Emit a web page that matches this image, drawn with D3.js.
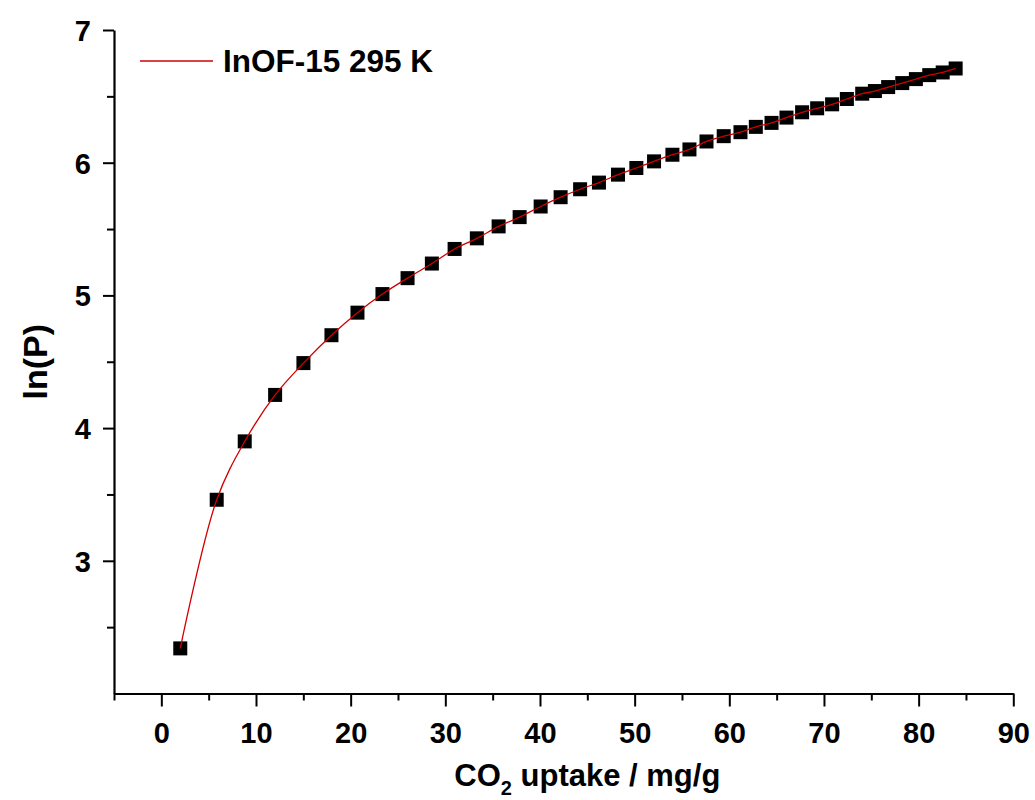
<!DOCTYPE html>
<html>
<head>
<meta charset="utf-8">
<script src="https://cdn.jsdelivr.net/npm/d3@7"></script>
<style>
  html, body { margin: 0; padding: 0; background: #ffffff; }
  svg { display: block; }
  text { font-family: "Liberation Sans", Arial, sans-serif; font-weight: bold; fill: #000; }
</style>
</head>
<body>
<svg id="chart" width="1035" height="800"></svg>
<script>
// ---- data ----
const uptake = [2.0, 5.85, 8.81, 12.02, 15.01, 17.97, 20.72, 23.36, 26.01, 28.58,
  30.98, 33.33, 35.63, 37.85, 40.07, 42.18, 44.24, 46.23, 48.24, 50.18,
  52.05, 53.99, 55.79, 57.59, 59.41, 61.18, 62.80, 64.46, 66.04, 67.69,
  69.28, 70.86, 72.42, 74.04, 75.38, 76.78, 78.27, 79.71, 81.12, 82.54, 83.91];
const lnP = [2.34, 3.46, 3.90, 4.25, 4.49, 4.70, 4.87, 5.01, 5.13, 5.24,
  5.35, 5.43, 5.52, 5.59, 5.67, 5.74, 5.80, 5.85, 5.91, 5.96,
  6.01, 6.06, 6.10, 6.16, 6.20, 6.23, 6.27, 6.30, 6.34, 6.38,
  6.41, 6.44, 6.48, 6.52, 6.54, 6.57, 6.60, 6.63, 6.66, 6.68, 6.71];
const xMajorTicks = [0, 10, 20, 30, 40, 50, 60, 70, 80, 90];
const xMinorTicks = [-5, 5, 15, 25, 35, 45, 55, 65, 75, 85];
const yMajorTicks = [3, 4, 5, 6, 7];
const yMinorTicks = [2.5, 3.5, 4.5, 5.5, 6.5];
const seriesLabel = "InOF-15 295 K";
const xTitleMain = "CO";
const xTitleSub = "2";
const xTitleRest = " uptake / mg/g";
const yTitle = "ln(P)";

// ---- layout ----
const svg = d3.select("#chart");
const x = d3.scaleLinear().domain([-5, 90]).range([114, 1013.3]);
const y = d3.scaleLinear().domain([2, 7]).range([693.5, 30]);
const data = uptake.map((u, i) => ({ x: u, y: lnP[i] }));
const FONT = "'Liberation Sans', Arial, sans-serif";

// x axis
const gx = svg.append("g").attr("transform", `translate(0,${y(2)})`);
gx.call(d3.axisBottom(x).tickValues(xMajorTicks).tickSize(13).tickSizeOuter(0).tickFormat(d3.format("d")));
gx.append("g").call(d3.axisBottom(x).tickValues(xMinorTicks).tickSize(7).tickSizeOuter(0).tickFormat(""))
  .select(".domain").remove();
gx.selectAll(".domain").attr("stroke", "#000").attr("stroke-width", 2.2);
gx.selectAll(".tick line").attr("stroke", "#000").attr("stroke-width", 2);
gx.selectAll(".tick text").attr("y", 49).attr("dy", "0")
  .style("font-size", "29px").style("font-family", FONT).style("font-weight", "bold");

// y axis
const gy = svg.append("g").attr("transform", `translate(${x(-5)},0)`);
gy.call(d3.axisLeft(y).tickValues(yMajorTicks).tickSize(11).tickSizeOuter(0).tickPadding(12).tickFormat(d3.format("d")));
gy.append("g").call(d3.axisLeft(y).tickValues(yMinorTicks).tickSize(7).tickSizeOuter(0).tickFormat(""))
  .select(".domain").remove();
gy.selectAll(".domain").attr("stroke", "#000").attr("stroke-width", 2.2);
gy.selectAll(".tick line").attr("stroke", "#000").attr("stroke-width", 2);
gy.selectAll(".tick text").attr("dy", "0.36em")
  .style("font-size", "29px").style("font-family", FONT).style("font-weight", "bold");

// markers
const sq = 14;
svg.append("g").selectAll("rect").data(data).join("rect")
  .attr("x", d => x(d.x) - sq / 2)
  .attr("y", d => y(d.y) - sq / 2)
  .attr("width", sq).attr("height", sq)
  .attr("fill", "#000");

// fit line
const line = d3.line().x(d => x(d.x)).y(d => y(d.y)).curve(d3.curveCatmullRom.alpha(0.5));
svg.append("path").datum(data).attr("d", line)
  .attr("fill", "none").attr("stroke", "#d00000").attr("stroke-width", 1.3);

// legend
svg.append("line").attr("x1", 140).attr("x2", 213).attr("y1", 61).attr("y2", 61)
  .attr("stroke", "#d00000").attr("stroke-width", 1.3);
svg.append("text").attr("x", 223).attr("y", 72).style("font-size", "31.5px").text(seriesLabel);

// axis titles
const xt = svg.append("text").attr("x", x(45)).attr("y", 786).attr("text-anchor", "middle").style("font-size", "31px");
xt.append("tspan").text(xTitleMain);
xt.append("tspan").attr("dy", 9).style("font-size", "20px").text(xTitleSub);
xt.append("tspan").attr("dy", -9).text(xTitleRest);

svg.append("text")
  .attr("transform", `translate(47,${(y(2) + y(7)) / 2}) rotate(-90)`)
  .attr("text-anchor", "middle").style("font-size", "34px").text(yTitle);
</script>
</body>
</html>
